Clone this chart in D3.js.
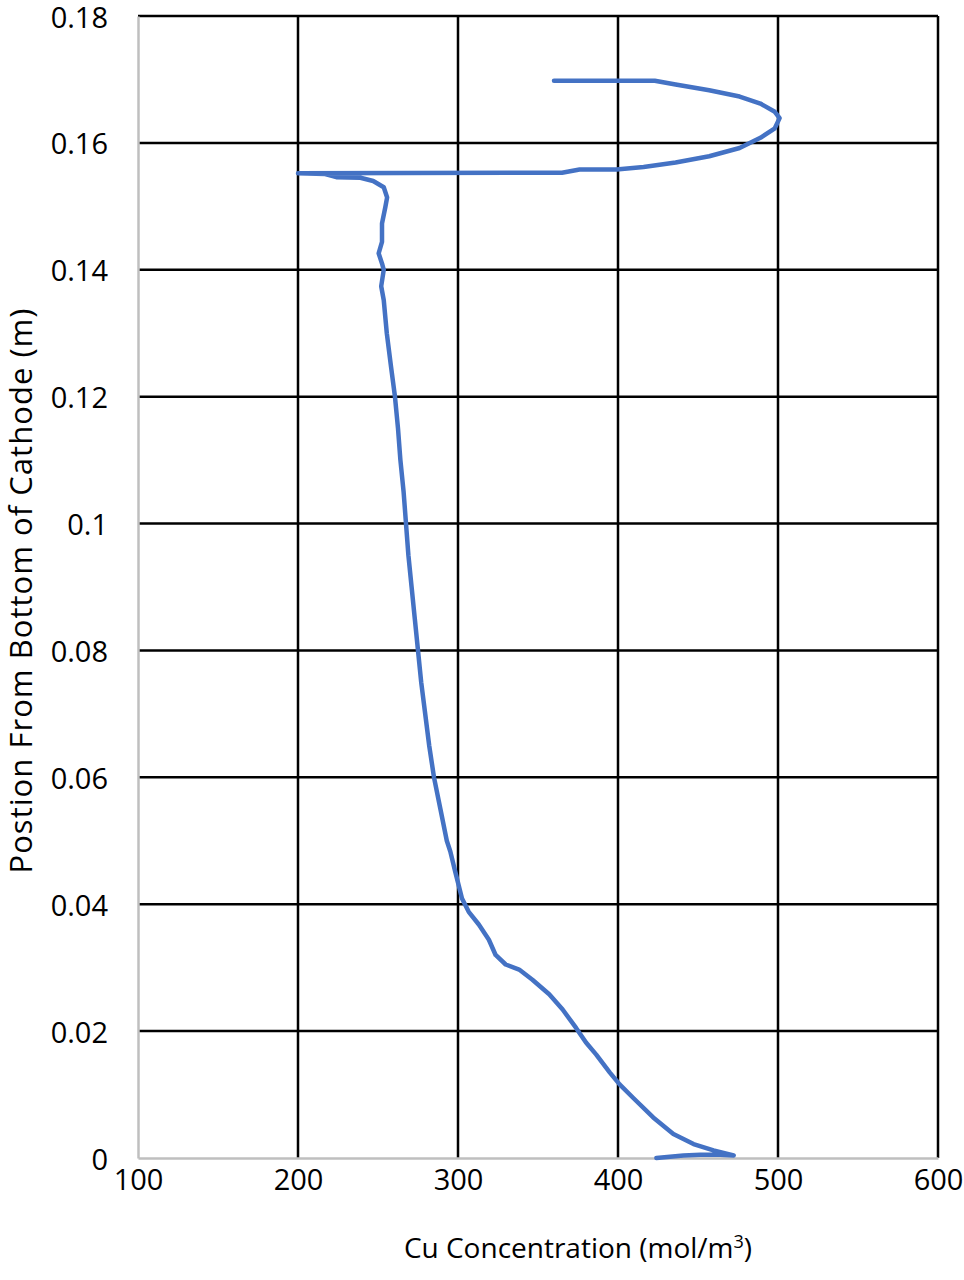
<!DOCTYPE html>
<html>
<head>
<meta charset="utf-8">
<script src="https://cdn.jsdelivr.net/npm/d3@7"></script>
<style>
  body { margin: 0; background: #fff; }
  svg text { font-family: "Open Sans", sans-serif; fill: #000; }
</style>
</head>
<body>
<svg id="chart"></svg>
<script>
// Cu concentration (mol/m3) vs position from bottom of cathode (m), traced top to bottom
var concentration = [360, 423, 436, 457, 476, 489, 498, 501, 498, 489, 476, 457, 436, 416, 399, 376, 365, 200,
  217, 224, 239, 247, 253.6, 255.7, 254.6, 252.5, 252.5, 250.4, 252.5, 253.6, 252, 253.6,
  255.5, 258, 260.6, 262.5, 264, 266, 267.5, 269, 271, 273, 275, 277, 279.5, 282, 285, 289, 293,
  295.2, 298.3, 302.5, 306.7, 313, 319.3, 323.5, 329.8, 338.2, 346.5, 357, 365.4, 373.8, 380,
  386.4, 394.8, 401, 409.4, 422, 434.6, 447.2, 459.7, 472.3, 464, 451.4, 440.9, 424];
var position = [0.1698, 0.1698, 0.1692, 0.1683, 0.1673, 0.1662, 0.1649, 0.1639, 0.1623, 0.1608, 0.1592, 0.1579, 0.1569, 0.1562, 0.1558, 0.1558, 0.1553, 0.1552,
  0.1551, 0.1546, 0.1545, 0.1540, 0.1530, 0.1514, 0.1499, 0.1473, 0.1444, 0.1426, 0.1410, 0.1400, 0.1374, 0.1352,
  0.1300, 0.1250, 0.1200, 0.1150, 0.1100, 0.1050, 0.1000, 0.0950, 0.0900, 0.0850, 0.0800, 0.0750, 0.0700, 0.0650, 0.0600, 0.0550, 0.0500,
  0.0483, 0.0451, 0.0409, 0.0388, 0.0368, 0.0344, 0.0320, 0.0305, 0.0297, 0.0281, 0.0258, 0.0234, 0.0205, 0.0182,
  0.0163, 0.0135, 0.0116, 0.0095, 0.0064, 0.0038, 0.0022, 0.0012, 0.0004, 0.0005, 0.0005, 0.0004, 0.0000];

var xTicks = [100, 200, 300, 400, 500, 600];
var yTicks = [0, 0.02, 0.04, 0.06, 0.08, 0.1, 0.12, 0.14, 0.16, 0.18];

var width = 964, height = 1280;
var margin = {top: 16, right: 26, bottom: 122, left: 138};

var svg = d3.select("#chart")
  .attr("width", width)
  .attr("height", height);

var x = d3.scaleLinear()
  .domain([100, 600])
  .range([margin.left, width - margin.right]);
var y = d3.scaleLinear()
  .domain([0, 0.18])
  .range([height - margin.bottom, margin.top]);

// grid lines (black), axis lines grey
svg.append("g")
  .selectAll("line")
  .data(yTicks.filter(function(d){ return d > 0; }))
  .enter().append("line")
  .attr("x1", x(100)).attr("x2", x(600))
  .attr("y1", function(d){ return y(d); })
  .attr("y2", function(d){ return y(d); })
  .attr("stroke", "#000")
  .attr("stroke-width", 2.5);

svg.append("g")
  .selectAll("line")
  .data(xTicks.filter(function(d){ return d > 100; }))
  .enter().append("line")
  .attr("x1", function(d){ return x(d); })
  .attr("x2", function(d){ return x(d); })
  .attr("y1", y(0)).attr("y2", y(0.18))
  .attr("stroke", "#000")
  .attr("stroke-width", 2.5);

// left and bottom axes
var xAxis = svg.append("g")
  .attr("transform", "translate(0," + y(0) + ")")
  .call(d3.axisBottom(x).tickValues(xTicks).tickSize(0).tickPadding(6).tickFormat(d3.format("d")));
var yAxis = svg.append("g")
  .attr("transform", "translate(" + x(100) + ",0)")
  .call(d3.axisLeft(y).tickValues(yTicks).tickSize(0).tickPadding(30)
    .tickFormat(function(d){ return d === 0 ? "0" : String(+d.toFixed(2)); }));

[xAxis, yAxis].forEach(function(ax){
  ax.select(".domain").attr("stroke", "#bfbfbf").attr("stroke-width", 2.5);
  ax.selectAll("text").style("font-size", "29px").style("font-family", "'Open Sans', sans-serif");
});
xAxis.selectAll("text").attr("dy", "0.9em");
yAxis.selectAll("text").attr("dy", "0.38em");

// data line
var pts = concentration.map(function(c, i){ return [c, position[i]]; });
var line = d3.line()
  .x(function(d){ return x(d[0]); })
  .y(function(d){ return y(d[1]); });

svg.append("path")
  .datum(pts)
  .attr("d", line)
  .attr("fill", "none")
  .attr("stroke", "#4472c4")
  .attr("stroke-width", 4.5)
  .attr("stroke-linejoin", "round")
  .attr("stroke-linecap", "round");

// axis titles
var xt = svg.append("text")
  .attr("x", 578)
  .attr("y", 1258)
  .attr("text-anchor", "middle")
  .style("font-size", "28px");
xt.append("tspan").text("Cu Concentration (mol/m");
xt.append("tspan").attr("dy", -10).style("font-size", "18px").text("3");
xt.append("tspan").attr("dy", 10).text(")");

svg.append("text")
  .attr("transform", "translate(32," + 591 + ") rotate(-90)")
  .attr("text-anchor", "middle")
  .attr("textLength", 565)
  .attr("lengthAdjust", "spacing")
  .style("font-size", "31px")
  .text("Postion From Bottom of Cathode (m)");
</script>
</body>
</html>
